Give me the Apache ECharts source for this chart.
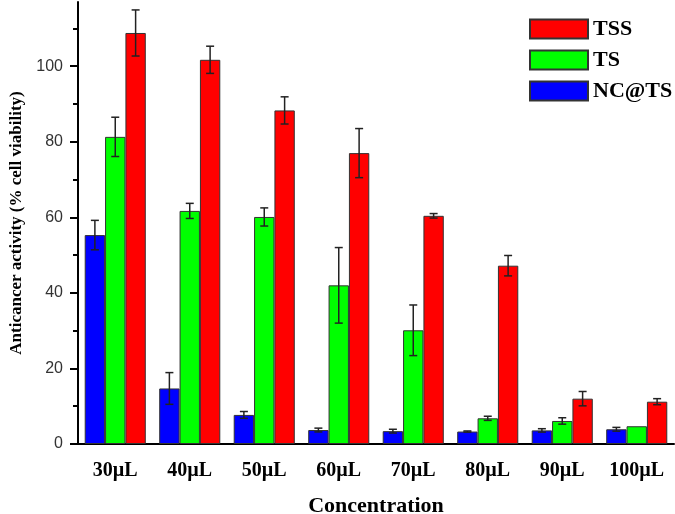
<!DOCTYPE html>
<html>
<head>
<meta charset="utf-8">
<script src="https://cdn.jsdelivr.net/npm/echarts@6/dist/echarts.min.js"></script>
<style>html,body{margin:0;padding:0;background:#fff;}#c{width:675px;height:514px;}</style>
</head>
<body>
<div id="c"></div>
<script>
const categories = ['30µL','40µL','50µL','60µL','70µL','80µL','90µL','100µL'];
const nctsValues = [55.3, 14.7, 7.7, 3.7, 3.4, 3.3, 3.6, 3.9];
const nctsErrors = [3.9, 4.2, 0.9, 0.5, 0.5, 0.15, 0.45, 0.5];
const tsValues = [81.3, 61.7, 60.1, 42.0, 30.1, 6.8, 6.1, 4.7];
const tsErrors = [5.2, 2.0, 2.4, 10.0, 6.7, 0.55, 0.85, 0];
const tssValues = [108.8, 101.7, 88.3, 77.0, 60.4, 47.2, 12.0, 11.2];
const tssErrors = [6.1, 3.6, 3.6, 6.5, 0.6, 2.7, 1.9, 0.8];
const yMajorTicks = [0, 20, 40, 60, 80, 100];
const yMinorTicks = [10, 30, 50, 70, 90, 110];
const legendOrder = ['TSS', 'TS', 'NC@TS'];

const CAT_GAP = 0.18;
const serif = 'Liberation Serif';

function barSeries(name, vals, color) {
  return {
    name: name, type: 'bar', data: vals,
    barGap: '0%', barCategoryGap: (CAT_GAP * 100) + '%',
    itemStyle: { color: color, borderColor: '#333', borderWidth: 1 },
    emphasis: { disabled: true }
  };
}
function errSeries(vals, errs, idx) {
  return {
    type: 'custom', xAxisIndex: 0, yAxisIndex: 0, z: 10, silent: true,
    data: vals.map((v, i) => [i, v - errs[i], v + errs[i], errs[i]]),
    renderItem: function (params, api) {
      if (api.value(3) <= 0) return null;
      const i = api.value(0);
      const lo = api.coord([i, api.value(1)]);
      const hi = api.coord([i, api.value(2)]);
      const band = api.size([1, 0])[0];
      const bw = band * (1 - CAT_GAP) / 3;
      const x = lo[0] + (idx - 1) * bw;
      const cap = 4;
      const st = { stroke: '#222', lineWidth: 1.5 };
      return {
        type: 'group', children: [
          { type: 'line', shape: { x1: x, y1: lo[1], x2: x, y2: hi[1] }, style: st },
          { type: 'line', shape: { x1: x - cap, y1: lo[1], x2: x + cap, y2: lo[1] }, style: st },
          { type: 'line', shape: { x1: x - cap, y1: hi[1], x2: x + cap, y2: hi[1] }, style: st }
        ]
      };
    }
  };
}

const chart = echarts.init(document.getElementById('c'), null, { renderer: 'canvas' });
chart.setOption({
  animation: false,
  backgroundColor: '#fff',
  grid: { left: 78, right: 1, top: 2, bottom: 70, containLabel: false, outerBoundsMode: 'none' },
  legend: {
    data: legendOrder, orient: 'vertical', left: 529, top: 18, padding: 0,
    itemWidth: 58, itemHeight: 19, itemGap: 9, icon: 'rect',
    textStyle: { fontFamily: serif, fontWeight: 'bold', fontSize: 22, lineHeight: 19, color: '#000' }
  },
  xAxis: [
    {
      type: 'category', data: categories,
      name: 'Concentration', nameLocation: 'middle', nameGap: 51,
      nameTextStyle: { fontFamily: serif, fontWeight: 'bold', fontSize: 22, color: '#000' },
      axisLine: { lineStyle: { color: '#000', width: 2 } },
      axisTick: { alignWithLabel: true, length: 8, lineStyle: { color: '#000', width: 2 } },
      axisLabel: { margin: 17, fontFamily: serif, fontWeight: 'bold', fontSize: 20, color: '#000' }
    },
    {
      type: 'category', data: categories, position: 'bottom',
      axisLine: { show: false },
      axisTick: { length: 5, lineStyle: { color: '#000', width: 2 } },
      axisLabel: { show: false }
    }
  ],
  yAxis: [
    {
      type: 'value', min: 0, max: 117,
      name: 'Anticancer activity (% cell viability)', nameLocation: 'middle', nameGap: 52,
      nameTextStyle: { fontFamily: serif, fontWeight: 'bold', fontSize: 17, color: '#000' },
      axisLine: { show: true, lineStyle: { color: '#000', width: 2 } },
      axisTick: { show: true, length: 8, customValues: yMajorTicks, lineStyle: { color: '#000', width: 2 } },
      axisLabel: { customValues: yMajorTicks, margin: 15, fontFamily: 'Liberation Sans', fontSize: 16, color: '#333' },
      splitLine: { show: false }
    },
    {
      type: 'value', min: 0, max: 117, position: 'left',
      axisLine: { show: false },
      axisTick: { show: true, length: 5, customValues: yMinorTicks, lineStyle: { color: '#000', width: 2 } },
      axisLabel: { show: false },
      splitLine: { show: false }
    }
  ],
  series: [
    barSeries('NC@TS', nctsValues, '#0000ff'),
    barSeries('TS', tsValues, '#00ff00'),
    barSeries('TSS', tssValues, '#ff0000'),
    errSeries(nctsValues, nctsErrors, 0),
    errSeries(tsValues, tsErrors, 1),
    errSeries(tssValues, tssErrors, 2)
  ]
});
</script>
</body>
</html>
